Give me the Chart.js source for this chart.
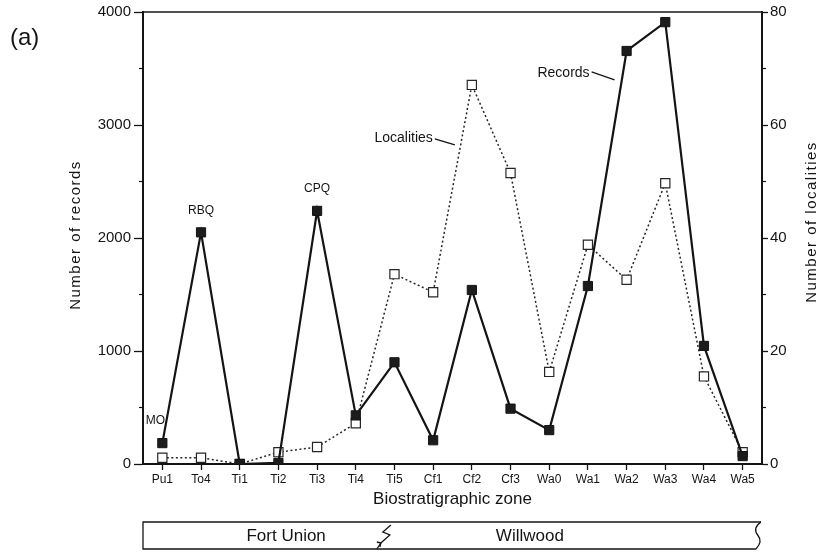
<!DOCTYPE html>
<html>
<head>
<meta charset="utf-8">
<script src="https://cdn.jsdelivr.net/npm/chart.js@4.4.1/dist/chart.umd.min.js"></script>
<style>
  html, body { margin: 0; padding: 0; background: #fff; }
  #wrap { width: 829px; height: 557px; }
</style>
</head>
<body>
<div id="wrap"><canvas id="chart"></canvas></div>
<script>
// biostratigraphic zones (x axis)
const zones = ['Pu1', 'To4', 'Ti1', 'Ti2', 'Ti3', 'Ti4', 'Ti5', 'Cf1', 'Cf2', 'Cf3',
               'Wa0', 'Wa1', 'Wa2', 'Wa3', 'Wa4', 'Wa5'];
// number of records (left axis)
const records = [185, 2050, 0, 10, 2240, 430, 900, 210, 1540, 490,
                 300, 1575, 3655, 3910, 1045, 70];
// number of localities (right axis)
const localities = [1.1, 1.1, 0, 2.1, 3.0, 7.2, 33.6, 30.4, 67.1, 51.5,
                    16.3, 38.8, 32.6, 49.7, 15.5, 2.1];
const recordMinorTicks = [500, 1500, 2500, 3500];
const localityMinorTicks = [10, 30, 50, 70];
// point labels: [text, zone index]
const pointLabels = [['MO', 0], ['RBQ', 1], ['CPQ', 4]];
const formations = ['Fort Union', 'Willwood'];

const FONT = '"Liberation Sans", Arial, sans-serif';
const INK = '#141414';

const extras = {
  id: 'extras',
  afterDraw(chart) {
    const {ctx, chartArea: a, scales: {x, y, y1}} = chart;
    ctx.save();
    ctx.strokeStyle = INK;
    ctx.fillStyle = INK;

    // top frame line
    ctx.lineWidth = 1.5;
    ctx.beginPath();
    ctx.moveTo(a.left, a.top);
    ctx.lineTo(a.right, a.top);
    ctx.stroke();

    // minor ticks
    ctx.lineWidth = 1.2;
    recordMinorTicks.forEach(v => {
      const py = y.getPixelForValue(v);
      ctx.beginPath(); ctx.moveTo(a.left - 4, py); ctx.lineTo(a.left, py); ctx.stroke();
    });
    localityMinorTicks.forEach(v => {
      const py = y1.getPixelForValue(v);
      ctx.beginPath(); ctx.moveTo(a.right, py); ctx.lineTo(a.right + 4, py); ctx.stroke();
    });

    // axis titles
    ctx.textAlign = 'center';
    ctx.textBaseline = 'middle';
    ctx.font = '15px ' + FONT;
    ctx.letterSpacing = '1.5px';
    ctx.save();
    ctx.translate(76, (a.top + a.bottom) / 2 - 3);
    ctx.rotate(-Math.PI / 2);
    ctx.fillText('Number of records', 0, 0);
    ctx.restore();
    ctx.save();
    ctx.translate(812, (a.top + a.bottom) / 2 - 16);
    ctx.rotate(-Math.PI / 2);
    ctx.fillText('Number of localities', 0, 0);
    ctx.restore();
    ctx.letterSpacing = '0px';

    // panel letter
    ctx.font = '24px ' + FONT;
    ctx.textAlign = 'left';
    ctx.fillText('(a)', 10, 38);

    // point labels above records markers
    ctx.font = '12px ' + FONT;
    ctx.textAlign = 'center';
    pointLabels.forEach(([txt, i]) => {
      const px = x.getPixelForValue(i);
      const py = y.getPixelForValue(records[i]);
      ctx.fillText(txt, px + (i === 0 ? -7 : 0), py - 22);
    });

    // series labels with leader lines
    ctx.font = '14px ' + FONT;
    ctx.textAlign = 'right';
    ctx.lineWidth = 1.3;
    let px = x.getPixelForValue(12), py = y.getPixelForValue(records[12]);
    ctx.fillText('Records', px - 37, py + 22);
    ctx.beginPath(); ctx.moveTo(px - 35, py + 21); ctx.lineTo(px - 12, py + 29); ctx.stroke();
    px = x.getPixelForValue(8); py = y1.getPixelForValue(localities[8]);
    ctx.fillText('Localities', px - 39, py + 53);
    ctx.beginPath(); ctx.moveTo(px - 37, py + 54); ctx.lineTo(px - 17, py + 60); ctx.stroke();

    // formation bar
    const top = chart.height - 35, bot = chart.height - 8, mid = (top + bot) / 2;
    const rx = a.right - 4;
    ctx.lineWidth = 1.3;
    ctx.beginPath();
    ctx.moveTo(rx + 3, top); ctx.lineTo(a.left, top); ctx.lineTo(a.left, bot); ctx.lineTo(rx - 2, bot);
    ctx.stroke();
    // wavy right edge
    ctx.beginPath();
    ctx.moveTo(rx + 3, top);
    ctx.quadraticCurveTo(rx - 6, top + 6, rx, mid);
    ctx.quadraticCurveTo(rx + 5, mid + 6, rx - 2, bot);
    ctx.stroke();
    // zigzag contact
    const zx = x.getPixelForValue(5.7);
    ctx.beginPath();
    ctx.moveTo(zx + 8, top + 3);
    ctx.lineTo(zx, top + 10);
    ctx.lineTo(zx + 7, top + 13);
    ctx.lineTo(zx - 2, top + 21);
    ctx.lineTo(zx - 6, bot);
    ctx.stroke();
    ctx.beginPath();
    ctx.moveTo(zx - 6, top + 20); ctx.lineTo(zx - 2, top + 21); ctx.lineTo(zx - 3, top + 25);
    ctx.stroke();

    ctx.font = '17px ' + FONT;
    ctx.textAlign = 'center';
    ctx.fillText(formations[0], x.getPixelForValue(3.2), mid + 1);
    ctx.fillText(formations[1], x.getPixelForValue(9.5), mid + 1);
    ctx.restore();
  }
};

new Chart(document.getElementById('chart'), {
  type: 'line',
  data: {
    labels: zones,
    datasets: [{
      label: 'Records',
      data: records,
      yAxisID: 'y',
      borderColor: INK,
      borderWidth: 2.2,
      pointStyle: 'rect',
      pointRadius: 6.5,
      pointBackgroundColor: '#1c1c1c',
      pointBorderColor: INK,
      pointBorderWidth: 1,
      tension: 0
    }, {
      label: 'Localities',
      data: localities,
      yAxisID: 'y1',
      borderColor: '#262626',
      borderWidth: 1.5,
      borderDash: [2, 2.5],
      pointStyle: 'rect',
      pointRadius: 6.5,
      pointBackgroundColor: '#fff',
      pointBorderColor: '#262626',
      pointBorderWidth: 1.2,
      tension: 0
    }]
  },
  options: {
    responsive: true,
    maintainAspectRatio: false,
    animation: false,
    layout: { padding: { left: 0, right: 0, top: 12, bottom: 47 } },
    scales: {
      x: {
        offset: true,
        afterFit(s) { s.height = 46; },
        grid: { drawOnChartArea: false, tickLength: 6, tickColor: INK, tickWidth: 1.3 },
        border: { display: true, color: INK, width: 2 },
        ticks: { color: INK, font: { family: FONT, size: 12 }, padding: 2, autoSkip: false, maxRotation: 0 },
        title: { display: true, text: 'Biostratigraphic zone', color: INK,
                 font: { family: FONT, size: 17 }, padding: { top: 0, bottom: 0 } }
      },
      y: {
        position: 'left',
        min: 0, max: 4000,
        afterFit(s) { s.width = 143; },
        grid: { drawOnChartArea: false, tickLength: 9, tickColor: INK, tickWidth: 1.3 },
        border: { display: true, color: INK, width: 2 },
        ticks: { stepSize: 1000, color: INK, font: { family: FONT, size: 15 }, padding: 3,
                 callback: v => String(v) }
      },
      y1: {
        position: 'right',
        min: 0, max: 80,
        afterFit(s) { s.width = 67; },
        grid: { drawOnChartArea: false, tickLength: 6, tickColor: INK, tickWidth: 1.3 },
        border: { display: true, color: INK, width: 2 },
        ticks: { stepSize: 20, color: INK, font: { family: FONT, size: 15 }, padding: 2,
                 callback: v => String(v) }
      }
    },
    plugins: {
      legend: { display: false },
      tooltip: { enabled: false }
    }
  },
  plugins: [extras]
});
</script>
</body>
</html>
